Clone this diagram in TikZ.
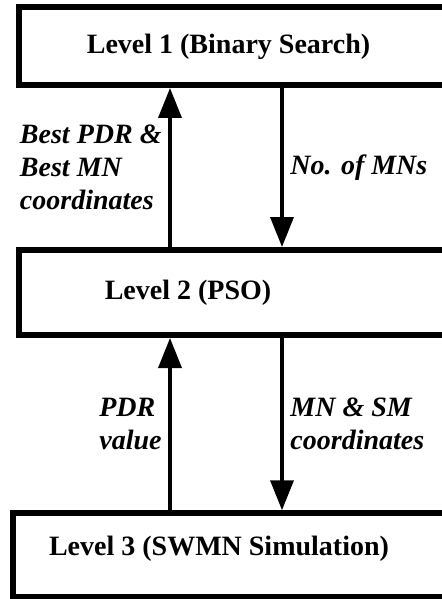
\documentclass[tikz,border=0pt]{standalone}
\usepackage{fontspec}
\setmainfont{Liberation Serif}
\usetikzlibrary{arrows.meta}
\begin{document}
\begin{tikzpicture}[x=0.5pt,y=-0.5pt]
  \clip (0,0) rectangle (442,599);
  \begin{scope}[every node/.style={draw,line width=3pt,rectangle,inner sep=0pt}]
  \node[minimum width=230.5pt,minimum height=39pt] (box1) at (249.5,46) {};
  \node[minimum width=230.5pt,minimum height=42.5pt] (box2) at (249.5,292.5) {};
  \node[minimum width=233.75pt,minimum height=41.75pt] (box3) at (246.25,555) {};
  \end{scope}
  \begin{scope}[every node/.style={font=\fontsize{14}{16.5}\selectfont\bfseries}]
  \node (lvl1) at (228.5,47) {Level 1 (Binary Search)};
  \node (lvl2) at (188,293) {Level 2 (PSO)};
  \node (lvl3) at (219,549) {Level 3 (SWMN Simulation)};
  \end{scope}
  \coordinate (lx) at (170,0);
  \coordinate (rx) at (282,0);
  \begin{scope}[every edge/.style={draw=black,line width=1.8pt,-{Triangle[width=11.5pt,length=15pt]}},
    every node/.style={font=\fontsize{14}{16.5}\selectfont\bfseries\itshape,align=left}]
  \path (box2.north -| lx) edge node[midway,left] {Best PDR \&\\Best MN\\coordinates} (box1.south -| lx);
  \path (box1.south -| rx) edge node[midway,right] {No. of MNs} (box2.north -| rx);
  \path (box3.north -| lx) edge node[midway,left] {PDR\\value} (box2.south -| lx);
  \path (box2.south -| rx) edge node[midway,right] {MN \& SM\\coordinates} (box3.north -| rx);
  \end{scope}
\end{tikzpicture}
\end{document}
